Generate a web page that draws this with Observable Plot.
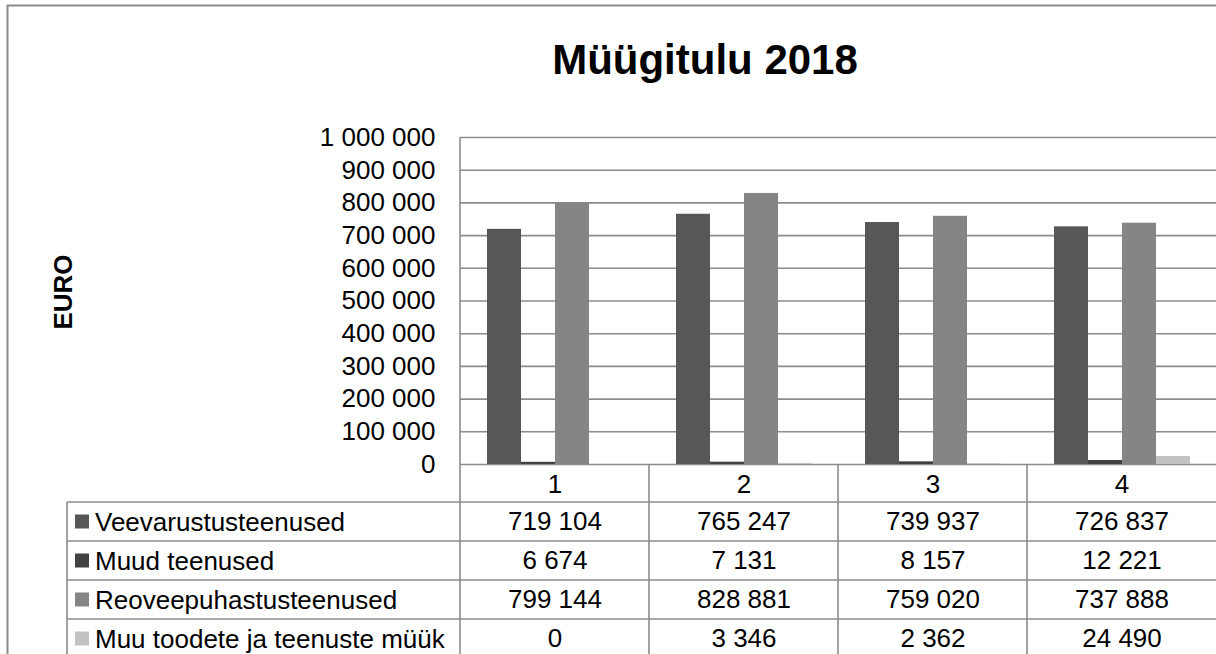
<!DOCTYPE html>
<html>
<head>
<meta charset="utf-8">
<script src="https://cdn.jsdelivr.net/npm/d3@7"></script>
<script src="https://cdn.jsdelivr.net/npm/@observablehq/plot@0.6"></script>
<style>
  html, body { margin: 0; padding: 0; background: #fff; overflow: hidden; }
  #chart { width: 1216px; height: 654px; }
</style>
</head>
<body>
<div id="chart"></div>
<script>
// ---- data ----
const categories = ["1", "2", "3", "4"];
const seriesNames = [
  "Veevarustusteenused",
  "Muud teenused",
  "Reoveepuhastusteenused",
  "Muu toodete ja teenuste müük"
];
const veevarustusteenused = [719104, 765247, 739937, 726837];
const muudTeenused = [6674, 7131, 8157, 12221];
const reoveepuhastusteenused = [799144, 828881, 759020, 737888];
const muuToodeteMyyk = [0, 3346, 2362, 24490];
const yTicks = [0, 100000, 200000, 300000, 400000, 500000, 600000, 700000, 800000, 900000, 1000000];
const seriesColors = ["#575757", "#424242", "#858585", "#c2c2c2"];
const titleText = "Müügitulu 2018";
const yLabel = "EURO";

const seriesValues = [veevarustusteenused, muudTeenused, reoveepuhastusteenused, muuToodeteMyyk];
const rows = [];
seriesNames.forEach((s, si) => {
  categories.forEach((c, ci) => rows.push({cat: c, series: s, value: seriesValues[si][ci]}));
});

const FONT = "'Liberation Sans', Arial, Helvetica, sans-serif";
const fmt = d3.formatLocale({decimal: ",", thousands: "\u00a0", grouping: [3], currency: ["", ""]}).format(",d");
const fmtSp = v => fmt(v).replace(/\u00a0/g, " ");

// layout constants (pixels)
const W = 1216, H = 654;
const mLeft = 460, mTop = 137, mBottom = 190;
const zeroY = H - mBottom;           // 464
const rowTops = [502, 541, 580, 619, 658];
const rowCenters = [521.5, 560.5, 599.5, 638.5];
const tableLeft = 67;
const gridColor = "#8c8c8c";

const plot = Plot.plot({
  width: W,
  height: H,
  marginLeft: mLeft,
  marginRight: 0,
  marginTop: mTop,
  marginBottom: mBottom,
  style: {fontFamily: FONT, fontSize: "26px", color: "#000", background: "#fff", overflow: "visible"},
  fx: {domain: categories, padding: 0, axis: "bottom", tickSize: 0, tickPadding: 10, label: null},
  x: {domain: seriesNames, paddingInner: 0, paddingOuter: 0.75, axis: null},
  y: {domain: [0, 1000000], ticks: 10, tickFormat: fmtSp, tickSize: 0, tickPadding: 25, label: null},
  color: {domain: seriesNames, range: seriesColors},
  marks: [
    Plot.ruleY(yTicks, {stroke: gridColor, strokeWidth: 1.6}),
    Plot.barY(rows, {fx: "cat", x: "series", y: "value", fill: "series"}),
    ...seriesNames.map((s, i) => Plot.text(rows.filter(r => r.series === s), {
      fx: "cat",
      frameAnchor: "bottom",
      lineAnchor: "middle",
      dy: rowCenters[i] - zeroY,
      text: d => fmtSp(d.value),
      fontSize: 26,
      fill: "#000"
    }))
  ]
});

document.getElementById("chart").appendChild(plot);

// ---- table lines, legend column, title, axis label ----
const svg = d3.select(plot.tagName.toLowerCase() === "svg" ? plot : plot.querySelector("svg"));
const fxS = plot.scale ? plot.scale("fx") : null;
const bw = (fxS && fxS.bandwidth) ? fxS.bandwidth : (W - mLeft) / categories.length;
const colLeft = c => (fxS && fxS.apply) ? fxS.apply(c) : mLeft + categories.indexOf(c) * bw;

const g = svg.append("g").attr("stroke", gridColor).attr("stroke-width", 1.6).attr("fill", "none");
// left axis line through plot and table
g.append("line").attr("x1", colLeft(categories[0])).attr("x2", colLeft(categories[0]))
  .attr("y1", mTop).attr("y2", H);
// category separators in table
categories.slice(1).forEach(c => {
  g.append("line").attr("x1", colLeft(c)).attr("x2", colLeft(c)).attr("y1", zeroY).attr("y2", H);
});
// table row lines
rowTops.slice(0, 4).forEach(y => {
  g.append("line").attr("x1", tableLeft).attr("x2", W).attr("y1", y).attr("y2", y);
});
// table left edge
g.append("line").attr("x1", tableLeft).attr("x2", tableLeft).attr("y1", rowTops[0]).attr("y2", H);

// legend keys & labels
const lg = svg.append("g").attr("font-family", FONT).attr("font-size", 26).attr("text-anchor", "start");
seriesNames.forEach((s, i) => {
  lg.append("rect").attr("x", 75).attr("y", rowCenters[i] - 7).attr("width", 14).attr("height", 14)
    .attr("fill", seriesColors[i]);
  lg.append("text").attr("x", 95).attr("y", rowCenters[i]).attr("dy", "0.35em")
    .attr("text-anchor", "start").attr("fill", "#000").text(s);
});

// outer border
svg.append("path").attr("d", `M7.5,${H} V5.5 H${W}`).attr("fill", "none")
  .attr("stroke", "#8a8a8a").attr("stroke-width", 2);

// title
svg.append("text").attr("x", 705).attr("y", 74).attr("text-anchor", "middle")
  .attr("font-family", FONT).attr("font-size", 42).attr("font-weight", "bold").attr("fill", "#000")
  .text(titleText);

// y label
svg.append("text").attr("transform", "translate(72,292) rotate(-90)").attr("text-anchor", "middle")
  .attr("font-family", FONT).attr("font-size", 26).attr("font-weight", "bold").attr("fill", "#000")
  .text(yLabel);
</script>
</body>
</html>
